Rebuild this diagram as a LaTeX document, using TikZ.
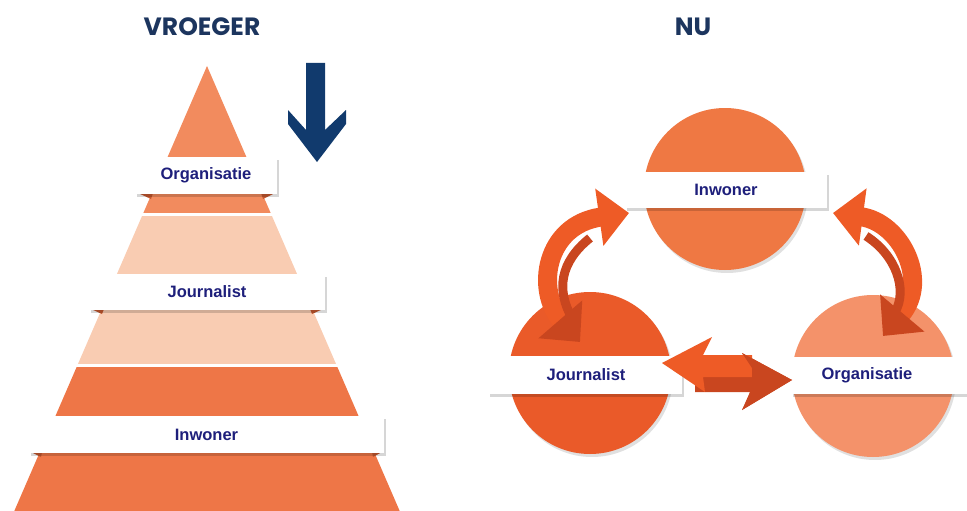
\documentclass[tikz,border=0pt]{standalone}
\usepackage{fontspec}
\setmainfont{Liberation Sans}
\newfontfamily\titlefont{Poppins}
\usetikzlibrary{shadows,arrows.meta}
\definecolor{pyrTop}{HTML}{F28B5E}
\definecolor{pyrMid}{HTML}{F9CCB2}
\definecolor{pyrBot}{HTML}{EE7647}
\definecolor{foldC}{HTML}{C4582F}
\definecolor{circInw}{HTML}{EF7843}
\definecolor{circJou}{HTML}{EA5A29}
\definecolor{circOrg}{HTML}{F4926A}
\definecolor{arrA}{HTML}{EE5B26}
\definecolor{arrB}{HTML}{C9461F}
\definecolor{navyArrow}{HTML}{113A6D}
\definecolor{titleC}{HTML}{1C355E}
\definecolor{labelC}{HTML}{1E1F7B}
\begin{document}
\begin{tikzpicture}[x=1pt,y=-1pt,
  lbl/.style={font=\bfseries\fontsize{16.5}{18}\selectfont, text=labelC, inner sep=0pt},
  ribbon/.style={fill=white, draw=none, inner sep=0pt,
    drop shadow={shadow xshift=1.5pt, shadow yshift=-2.5pt, opacity=0.16, fill=black}},
  ttl/.style={font=\titlefont\bfseries\fontsize{25}{28}\selectfont, text=titleC, inner sep=0pt},
  disc/.style={circle, draw=none, minimum size=162pt, inner sep=0pt,
    drop shadow={shadow xshift=2pt, shadow yshift=-3pt, opacity=0.12, fill=black}},
  curvarrow/.style={draw=arrA, line width=19pt,
    {Triangle[width=56pt,length=30pt,color=arrB]}-{Triangle[width=56pt,length=30pt]}},
  curvshade/.style={draw=arrB, line width=9pt},
  fold/.style={fill=foldC}]
\useasboundingbox (0,0) rectangle (967,511);

% titles
\node[ttl] (t-vroeger) at (202,27) {VROEGER};
\node[ttl] (t-nu) at (693,27) {NU};

% ---------- pyramid ----------
\begin{scope}
  \clip (207,66) -- (403.6,520) -- (10.4,520) -- cycle;
  \fill[pyrTop] (0,60) rectangle (420,213);
  \fill[pyrMid] (0,216) rectangle (420,364);
  \fill[pyrBot] (0,367) rectangle (420,520);
\end{scope}

% folds under ribbons
\fill[fold] (138,193) -- (153,193) -- (151,199) -- cycle;
\fill[fold] (261,193) -- (275,193) -- (263,199) -- cycle;
\fill[fold] (91,309) -- (104,309) -- (102,314) -- cycle;
\fill[fold] (310,309) -- (323,309) -- (312,314) -- cycle;
\fill[fold] (31,452) -- (42,452) -- (41,457) -- cycle;
\fill[fold] (372,452) -- (382,452) -- (373,457) -- cycle;

\node[ribbon, lbl, minimum width=142pt, minimum height=37pt] (p-org) at (206,175.5) {Organisatie};
\node[ribbon, lbl, minimum width=236pt, minimum height=36pt] (p-jou) at (207,292) {Journalist};
\node[ribbon, lbl, minimum width=355pt, minimum height=37pt] (p-inw) at (206.5,434.5) {Inwoner};

% down arrow
\fill[navyArrow] (306,63) -- (325,63) -- (325,130) -- (346,110) -- (346,124)
  -- (317,162) -- (288,124) -- (288,110) -- (306,130) -- cycle;

% ---------- cycle ----------
\node[disc, fill=circInw] (c-inw) at (725,189) {};
\node[disc, fill=circJou] (c-jou) at (590,373) {};
\node[disc, fill=circOrg] (c-org) at (873,376) {};

\node[ribbon, minimum width=202pt, minimum height=36pt] (b-inw) at (726,190) {};
\node[ribbon, minimum width=194pt, minimum height=38pt] (b-jou) at (585,375) {};
\node[ribbon, minimum width=184pt, minimum height=37pt] (b-org) at (883,375.5) {};
\node[lbl] (l-inw) at (b-inw) {Inwoner};
\node[lbl] (l-jou) at (586,375) {Journalist};
\node[lbl] (l-org) at (867,375) {Organisatie};

% curved arrows
\coordinate (jA) at (580,342);
\coordinate (iA) at (629,213);
\coordinate (oA) at (883,336);
\coordinate (iB) at (833,213);
\draw[curvarrow] (jA) .. controls (535,290) and (545,225) .. (iA);
\draw[curvshade] (572,318) .. controls (556,290) and (560,262) .. (590,238);
\draw[curvarrow] (oA) .. controls (930,280) and (900,222) .. (iB);
\draw[curvshade] (895,312) .. controls (908,290) and (896,255) .. (866,236);

% horizontal double arrow
\fill[arrB] (792,380) -- (742,353) -- (750,368) -- (695,368) -- (695,392)
  -- (750,392) -- (742,410) -- cycle;
\fill[arrA] (662,363) -- (712,337) -- (703,355) -- (752,355) -- (752,377)
  -- (703,377) -- (705,392) -- cycle;
\fill[arrB] (792,380) -- (742,353) -- (752,368) -- (752,392) -- (742,410) -- cycle;
\end{tikzpicture}
\end{document}
